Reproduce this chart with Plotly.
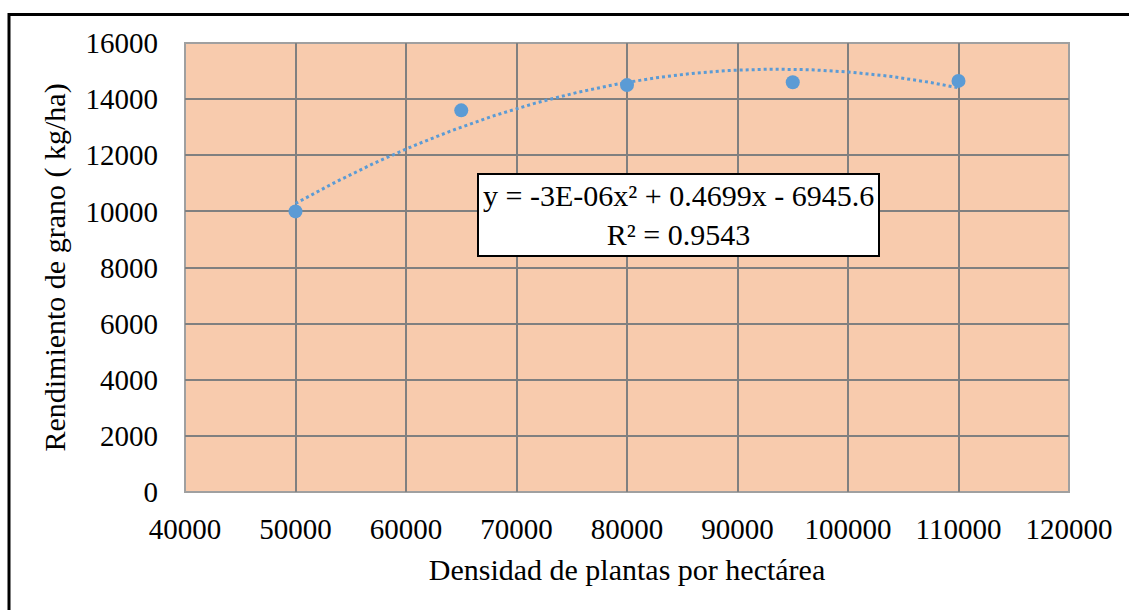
import numpy as np
import plotly.graph_objects as go

densidad = [50000, 65000, 80000, 95000, 110000]
rendimiento = [10000, 13600, 14500, 14600, 14650]

x_ticks = [40000, 50000, 60000, 70000, 80000, 90000, 100000, 110000, 120000]
y_ticks = [0, 2000, 4000, 6000, 8000, 10000, 12000, 14000, 16000]

equation_text = "y = -3E-06x² + 0.4699x - 6945.6<br>R² = 0.9543"

# polynomial trendline (order 2) fitted to the data
coef = np.polyfit(densidad, rendimiento, 2)
xt = np.linspace(min(densidad), max(densidad), 200)
yt = np.polyval(coef, xt)

FONT = "Liberation Serif"
BLUE = "#5B9BD5"

L, R, T, B = 185, 60, 43, 118
PW, PH = 1129 - L - R, 610 - T - B

fig = go.Figure()
fig.add_trace(go.Scatter(x=xt, y=yt, mode="lines",
                         line=dict(color=BLUE, width=3, dash="dot"),
                         hoverinfo="skip", showlegend=False))
fig.add_trace(go.Scatter(x=densidad, y=rendimiento, mode="markers",
                         marker=dict(color=BLUE, size=14),
                         showlegend=False))

fig.update_layout(
    width=1129, height=610,
    margin=dict(l=L, r=R, t=T, b=B),
    paper_bgcolor="white",
    plot_bgcolor="#F8CBAD",
    font=dict(family=FONT, size=29, color="black"),
    showlegend=False,
)
fig.update_xaxes(
    range=[40000, 120000], tickvals=x_ticks, ticktext=[str(v) for v in x_ticks],
    showgrid=True, gridcolor="#808080", gridwidth=2, zeroline=False,
    showline=False, ticks="", ticklabelstandoff=17,
    tickfont=dict(family=FONT, size=29),
    title=dict(text="Densidad de plantas por hectárea", standoff=14,
               font=dict(family=FONT, size=30)),
)
fig.update_yaxes(
    range=[0, 16000], tickvals=y_ticks, ticktext=[str(v) for v in y_ticks],
    showgrid=True, gridcolor="#808080", gridwidth=2, zeroline=False,
    showline=False, ticks="", ticklabelstandoff=26,
    tickfont=dict(family=FONT, size=29),
    title=dict(text="Rendimiento de grano ( kg/ha)", standoff=11,
               font=dict(family=FONT, size=30)),
)
# plot area border
fig.add_shape(type="rect", xref="x domain", yref="y domain", x0=0, x1=1, y0=0, y1=1,
              line=dict(color="#A0A0A0", width=2), layer="below")
# outer frame (top and left visible)
fig.add_shape(type="rect", xref="paper", yref="paper",
              x0=(9 - L) / PW, x1=1.2, y0=-0.5, y1=1 + (T - 14.5) / PH,
              line=dict(color="black", width=3))

fig.add_annotation(x=84700, y=9870, xref="x", yref="y", text=equation_text,
                   showarrow=False, align="center",
                   font=dict(family=FONT, size=30, color="black"),
                   bgcolor="white", bordercolor="black", borderwidth=2, borderpad=4)

fig.write_html("out.html")
